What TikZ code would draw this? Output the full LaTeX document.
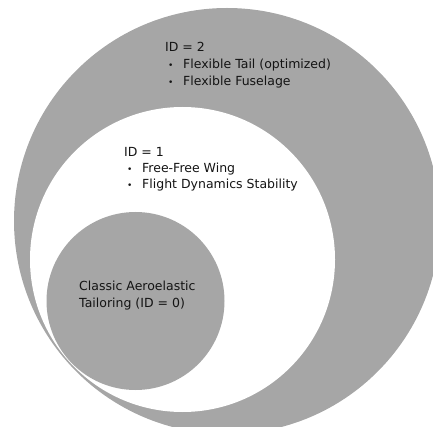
\documentclass[tikz,border=0pt]{standalone}
\usepackage{fontspec}
\setmainfont{DejaVu Sans}
\usepackage{tikz}
\usetikzlibrary{shapes.geometric, positioning}
\definecolor{mygrey}{RGB}{166,166,166}
\definecolor{mytext}{RGB}{20,20,20}
\newcommand{\itm}[1]{\hspace*{3pt}\makebox[15pt][l]{\small\textbullet}#1}
\tikzset{
  ring/.style={circle, fill=mygrey, draw=none, inner sep=0pt},
  hole/.style={circle, fill=white, draw=none, inner sep=0pt},
  label/.style={anchor=base west, inner sep=0pt, align=left,
    text=mytext, font=\fontsize{12.5}{17}\selectfont}
}
\begin{document}
\begin{tikzpicture}[x=1pt, y=-1pt]
  \useasboundingbox (0,0) rectangle (433,427);
  % nested tangent circles
  \node[ring, minimum size=426pt] (lvltwo) at (227,221) {};
  \node[hole, minimum size=305pt] (lvlone) at (182.5,259.5) {};
  \node[ring, minimum size=178pt] (lvlzero) at (135.5,301) {};

  % labels, placed by the baseline of their last line
  \node[label] (txttwo) at (165,86) {ID = 2\\\itm{Flexible Tail (optimized)}\\\itm{Flexible Fuselage}};
  \node[label, font=\fontsize{12.5}{16}\selectfont] (txtone) at (124,189) {ID = 1\\\itm{Free-Free Wing}\\\itm{Flight Dynamics Stability}};
  \node[label] (txtzero) at (79,307) {Classic Aeroelastic\\Tailoring (ID = 0)};
\end{tikzpicture}
\end{document}
